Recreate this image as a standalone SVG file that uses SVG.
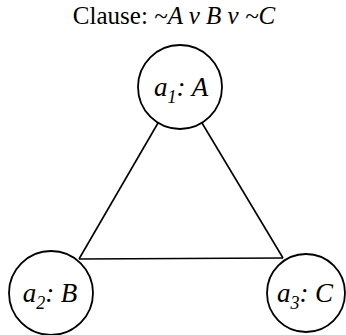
<svg xmlns="http://www.w3.org/2000/svg" width="346" height="335" viewBox="0 0 346 335">
<style>
.n{fill:#fff;stroke:#000;stroke-width:1.8}
.t{font-family:"Liberation Serif","Times New Roman",serif;font-size:25px;fill:#000}
.l{font-size:27px}
.i{font-style:italic}
.sub{font-size:18px}
.e{stroke:#000;stroke-width:1.6;fill:none}
</style>
<rect width="346" height="335" fill="#fff"/>
<text class="t" x="174" y="24" text-anchor="middle">Clause: <tspan class="i">~A v B v ~C</tspan></text>
<g id="edges">
<line class="e" x1="158" y1="123" x2="79" y2="259"/>
<line class="e" x1="202" y1="123" x2="283" y2="258"/>
<line class="e" x1="79" y1="259" x2="283" y2="258" stroke="#333"/>
</g>
<g id="a1">
<circle class="n" cx="180" cy="87" r="42"/>
<text class="t l i" x="181" y="96" text-anchor="middle">a<tspan class="sub" dy="7">1</tspan><tspan dy="-7">: A</tspan></text>
</g>
<g id="a2">
<circle class="n" cx="51" cy="293" r="42"/>
<text class="t l i" x="50" y="302" text-anchor="middle">a<tspan class="sub" dy="7">2</tspan><tspan dy="-7">: B</tspan></text>
</g>
<g id="a3">
<circle class="n" cx="306" cy="293" r="39"/>
<text class="t l i" x="305" y="302" text-anchor="middle">a<tspan class="sub" dy="7">3</tspan><tspan dy="-7">: C</tspan></text>
</g>
</svg>
